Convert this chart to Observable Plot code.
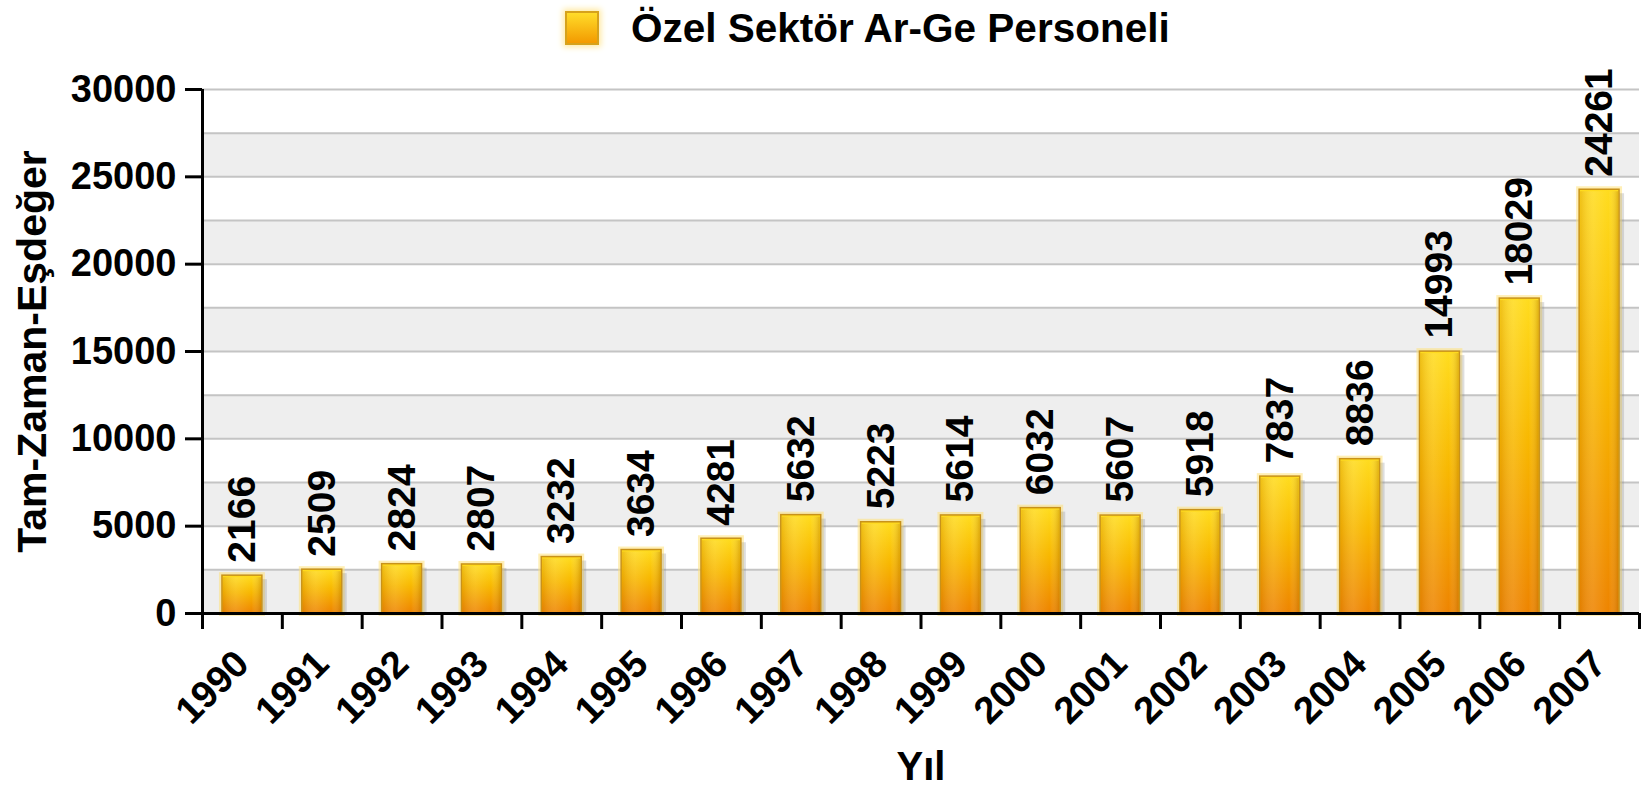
<!DOCTYPE html>
<html>
<head>
<meta charset="utf-8">
<script src="https://cdn.jsdelivr.net/npm/d3@7"></script>
<script src="https://cdn.jsdelivr.net/npm/@observablehq/plot@0.6"></script>
<style>
  html, body { margin: 0; padding: 0; background: #fff; }
  body { width: 1646px; height: 789px; overflow: hidden; font-family: "Liberation Sans", Arial, sans-serif; }
  #legend { position: relative; height: 60px; width: 1646px; }
  #legend .sw { position: absolute; left: 565px; top: 11px; width: 30px; height: 30px;
    background: linear-gradient(#ffdc2a, #f39a00); border: 2px solid #d6a21c; box-shadow: 0 0 6px 2px #ffe9a0; }
  #legend .tx { position: absolute; left: 631px; top: 5px; font-size: 40.5px; font-weight: bold; color: #000; line-height: 46px; white-space: nowrap; }
  #chart svg { display: block; }
</style>
</head>
<body>
<svg width="0" height="0" style="position:absolute">
  <defs>
    <linearGradient id="barGrad" x1="0" y1="0" x2="0" y2="1">
      <stop offset="0" stop-color="#ffdc1e"/>
      <stop offset="0.45" stop-color="#f8b800"/>
      <stop offset="1" stop-color="#ee8400"/>
    </linearGradient>
    <linearGradient id="barSheen" x1="0" y1="0" x2="1" y2="0">
      <stop offset="0" stop-color="#c07000" stop-opacity="0.25"/>
      <stop offset="0.35" stop-color="#ffffff" stop-opacity="0.12"/>
      <stop offset="0.75" stop-color="#ffffff" stop-opacity="0"/>
      <stop offset="1" stop-color="#a06000" stop-opacity="0.3"/>
    </linearGradient>
  </defs>
</svg>
<div id="legend"><div class="sw"></div><div class="tx">Özel Sektör Ar-Ge Personeli</div></div>
<div id="chart"></div>
<script>
const years = ["1990","1991","1992","1993","1994","1995","1996","1997","1998","1999","2000","2001","2002","2003","2004","2005","2006","2007"];
const values = [2166,2509,2824,2807,3232,3634,4281,5632,5223,5614,6032,5607,5918,7837,8836,14993,18029,24261];
const yTicks = [0,5000,10000,15000,20000,25000,30000];
const gridLines = [0,2500,5000,7500,10000,12500,15000,17500,20000,22500,25000,27500,30000];
const bandStarts = [0,5000,10000,15000,20000,25000];
const bandSize = 2500;
const legendLabel = "Özel Sektör Ar-Ge Personeli";
const yTitle = "Tam-Zaman-Eşdeğer";
const xTitle = "Yıl";

const data = years.map((year, i) => ({i, year, value: values[i]}));
const edges = years.map((_, i) => i).concat([years.length]);
const centers = years.map((_, i) => i + 0.5);

const barX = {x1: d => d.i + 0.25, x2: d => d.i + 0.75, y: "value"};

const chart = Plot.plot({
  width: 1646,
  height: 729,
  marginTop: 29,
  marginBottom: 176,
  marginLeft: 202,
  marginRight: 7,
  x: {type: "linear", domain: [0, years.length], axis: null},
  y: {domain: [0, 30000], axis: null},
  style: {fontFamily: "'Liberation Sans', Arial, sans-serif", fontWeight: "bold", color: "#000", background: "#fff", overflow: "visible"},
  marks: [
    Plot.rect(bandStarts, {y1: d => d, y2: d => d + bandSize, fill: "#eeeeee"}),
    Plot.ruleY(gridLines, {stroke: "#c4c4c4", strokeWidth: 2}),
    Plot.rectY(data, {...barX, fill: "#ffe27a", fillOpacity: 0.55, inset: -3}),
    Plot.rectY(data, {...barX, fill: "#7a7a7a", fillOpacity: 0.25, dx: 5, insetTop: 4}),
    Plot.rectY(data, {...barX, fill: "url(#barGrad)", stroke: "#c8921a", strokeWidth: 1.5}),
    Plot.rectY(data, {...barX, fill: "url(#barSheen)", insetTop: 2, insetLeft: 1, insetRight: 1}),
    Plot.text(data, {x: d => d.i + 0.5, y: "value", text: d => String(d.value), rotate: -90, textAnchor: "start", dy: -13, fontSize: 39, fill: "#000"}),
    Plot.ruleY([0], {stroke: "#000", strokeWidth: 3}),
    Plot.ruleX([0], {stroke: "#000", strokeWidth: 3}),
    Plot.axisY({ticks: yTicks, tickSize: 17, tickPadding: 9, tickFormat: d => String(d), strokeWidth: 3, fontSize: 38, label: null}),
    Plot.axisX({ticks: edges, tickSize: 16, tickFormat: () => "", strokeWidth: 3, label: null}),
    Plot.axisX({ticks: centers, tickSize: 0, tickPadding: 44, tickRotate: -45, tickFormat: d => years[Math.round(d - 0.5)], fontSize: 38, label: null}),
    Plot.text([yTitle], {frameAnchor: "left", textAnchor: "middle", lineAnchor: "middle", rotate: -90, dx: -170, fontSize: 41, fill: "#000"}),
    Plot.text([xTitle], {frameAnchor: "bottom", textAnchor: "middle", lineAnchor: "middle", dy: 154, fontSize: 40, fill: "#000"})
  ]
});
document.getElementById("chart").appendChild(chart);
</script>
</body>
</html>
